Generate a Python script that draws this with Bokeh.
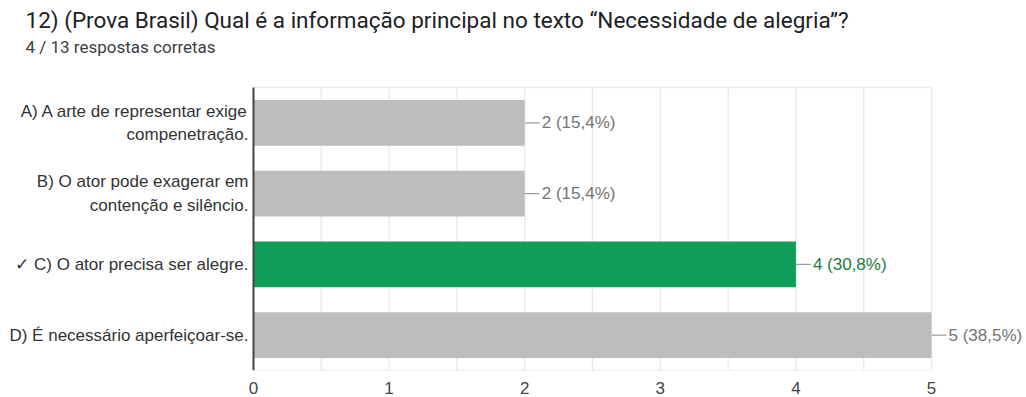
from bokeh.plotting import figure
from bokeh.models import ColumnDataSource, Title, FixedTicker, Range1d
from bokeh.core.properties import value
from bokeh.embed import file_html
from bokeh.resources import INLINE

title_text = "12) (Prova Brasil) Qual é a informação principal no texto “Necessidade de alegria”?"
subtitle_text = "4 / 13 respostas corretas"

cat_labels = [
    "A) A arte de representar exige\ncompenetração.",
    "B) O ator pode exagerar em\ncontenção e silêncio.",
    "✓ C) O ator precisa ser alegre.",
    "D) É necessário aperfeiçoar-se.",
]
counts = [2, 2, 4, 5]
value_labels = ["2 (15,4%)", "2 (15,4%)", "4 (30,8%)", "5 (38,5%)"]
bar_colors = ["#bdbdbd", "#bdbdbd", "#0f9d58", "#bdbdbd"]
label_colors = ["#757575", "#757575", "#188038", "#757575"]
x_ticks = [0, 1, 2, 3, 4, 5]
grid_ticks = [0.5, 1, 1.5, 2, 2.5, 3, 3.5, 4, 4.5, 5]

n = len(counts)
ypos = [n - i - 0.5 for i in range(n)]  # first category on top

src = ColumnDataSource(dict(
    y=ypos, label=cat_labels, count=counts, vlabel=value_labels,
    color=bar_colors, lcolor=label_colors, zero=[0] * n,
))

# layout constants (pixels)
frame_top, plot_top, plot_bottom = 56, 87, 370
px_per_unit = 678 / 5          # x=0 at ~253px, x=5 at ~931px
x_lo = -253 / px_per_unit
x_hi = 5 + 95 / px_per_unit
y_hi = n * (plot_bottom - frame_top) / (plot_bottom - plot_top)

p = figure(width=1026, height=397, output_backend="svg", toolbar_location=None,
           x_range=Range1d(x_lo, x_hi), y_range=Range1d(0, y_hi),
           y_axis_location=None,
           min_border_left=0, min_border_right=0, min_border_bottom=27,
           min_border_top=frame_top)

p.title = Title(text=title_text, text_font="Roboto", text_font_size="22.5px",
                text_font_style="normal", text_color="#202124", offset=25, standoff=4)
sub = Title(text=subtitle_text, text_font="Roboto", text_font_size="17px",
            text_font_style="normal", text_color="#3c4043", offset=25, standoff=0)
p.add_layout(sub, "above")

top = [n] * len(grid_ticks)
# grid lines, plot border and value axis line
p.segment(x0=grid_ticks, x1=grid_ticks, y0=[0] * len(grid_ticks), y1=top,
          line_color="#ebebeb", line_width=1.5)
p.segment(x0=[0, 0], x1=[x_ticks[-1], x_ticks[-1]], y0=[0, n], y1=[0, n],
          line_color="#ebebeb", line_width=1.5)
p.hbar(y="y", right="count", left=0, height=0.65, color="color", source=src, line_color=None)
p.segment(x0=[0], x1=[0], y0=[0], y1=[n], line_color="#444444", line_width=2)
p.ray(x="count", y="y", length=15, length_units="screen", angle=0,
      line_color="#9e9e9e", line_width=1.2, source=src)

p.text(x="count", y="y", text="vlabel", source=src, text_color="lcolor",
       text_font=value("Liberation Sans"), text_font_size="17px",
       text_baseline="middle", text_align="left", x_offset=17)

p.text(x="zero", y="y", text="label", source=src, text_color="#333333",
       text_font=value("Liberation Sans"), text_font_size="17px",
       text_baseline="middle", text_align="right", x_offset=-5,
       text_line_height=1.25)

p.xaxis.ticker = FixedTicker(ticks=x_ticks)
p.xaxis.axis_line_color = None
p.xaxis.major_tick_line_color = None
p.xaxis.minor_tick_line_color = None
p.xaxis.major_tick_out = 0
p.xaxis.major_tick_in = 0
p.xaxis.major_label_text_font = "Liberation Sans"
p.xaxis.major_label_text_font_size = "17px"
p.xaxis.major_label_text_color = "#444444"
p.xaxis.major_label_text_line_height = 0.9
p.xaxis.major_label_standoff = 11

p.xgrid.grid_line_color = None
p.ygrid.grid_line_color = None
p.outline_line_color = None

open("out.html", "w").write(file_html(p, INLINE))
